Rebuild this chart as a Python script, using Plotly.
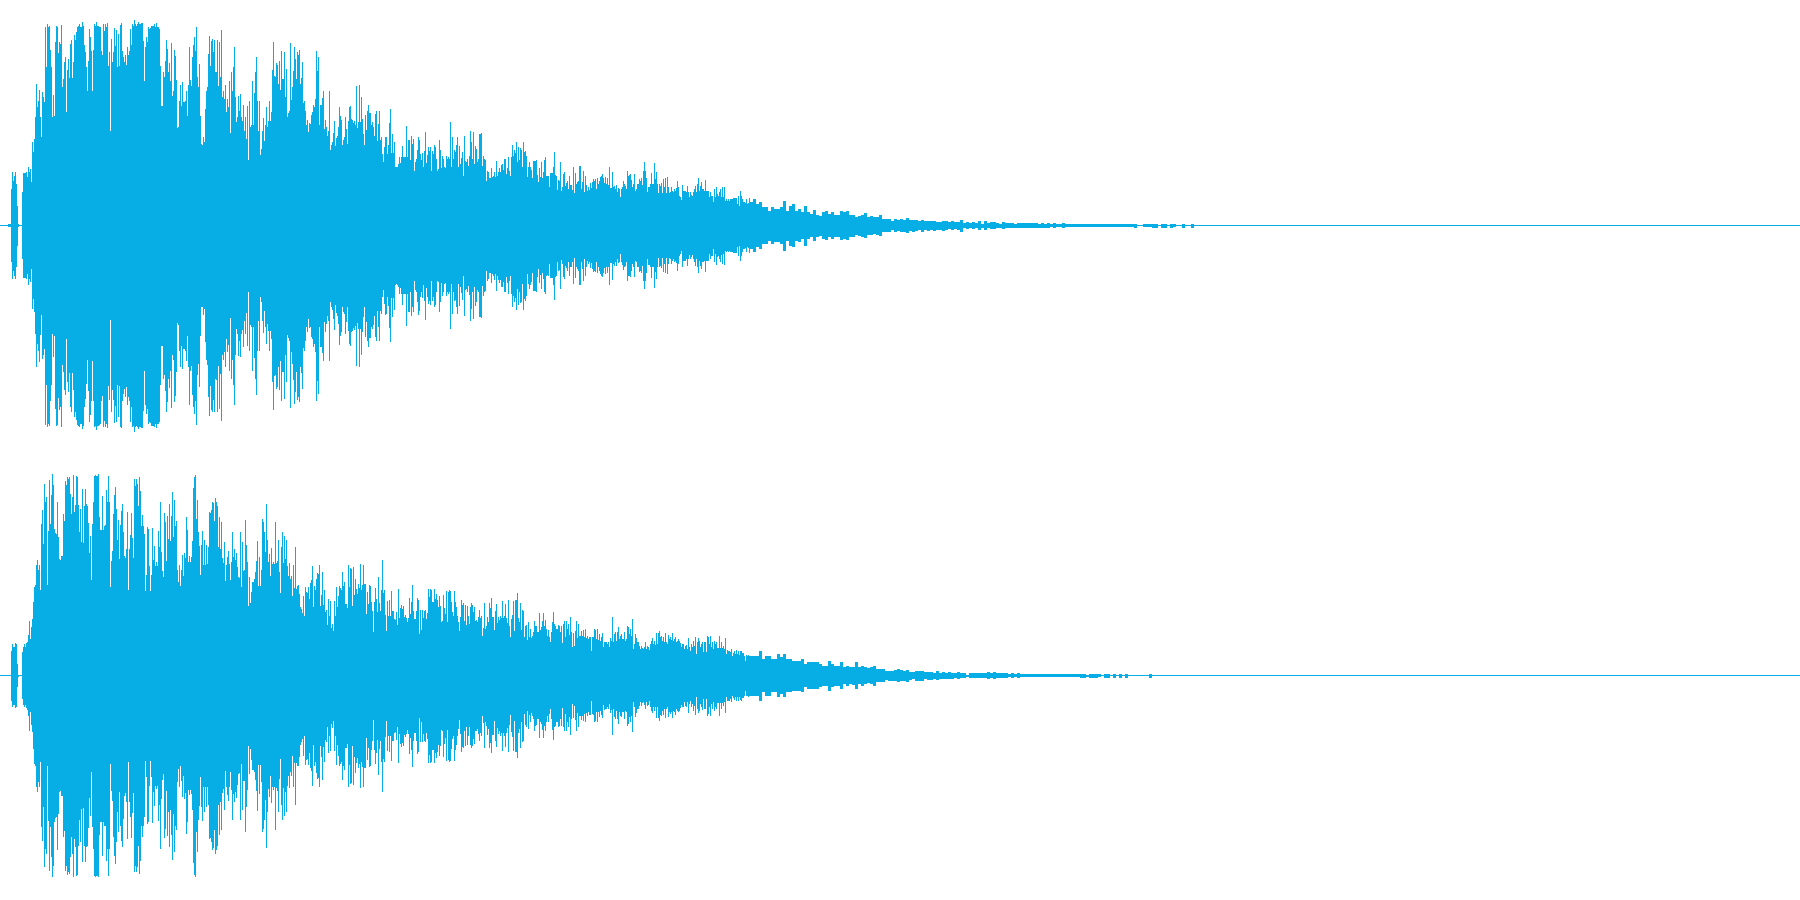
import plotly.graph_objects as go

# Peak amplitude per column group (full scale = 675).
ch1_head = [
1.5,1.5,1.5,1.5,1.5,1.5,1.5,1.5,5,5,5,110,160,135,150,160,125,60,5,1.5,1.5,1.5,100,158,158,157,160,145,177,160,
170,130,250,220,260,325,425,355,375,408,327,267,400,387,370,597,477,605,595,600,527,477,325,393,330,550,600,597,517,552,
545,603,417,440,492,507,340,468,500,442,545,558,442,492,573,558,582,597,600,605,595,595,610,600,543,520,475,403,495,590,
567,525,405,527,605,600,612,600,600,597,595,525,512,605,585,605,595,607,480,522,283,560,492,522,593,540,588,477,575,480,
603,607,525,505,490,513,483,537,513,525,590,543,605,600,618,605,600,605,610,605,605,607,607,555,435,537,565,550,595,590,
592,600,600,600,605,595,608,595,595,590,478,360,360,460,447,495,558,530,460,487,435,548,388,403,528,510,438,292,297,375,
423,360,430,370,370,375,405,330,423,537,437,420,507,543,565,525,597,447,415,485,330,245,243,267,250,350,403,417,515,570,
480,553,560,522,558,460,462,558,420,550,445,587,387,403,380,423,340,380,357,435,277,460,403,477,537,387,310,325,390,345,
395,325,313,363,285,325,261,360,198,375,297,303,435,303,397,460,507,375,285,375,213,230,285,322,255,303,355,295,315,375,
315,340,468,552,450,447,489,483,425,493,407,525,440,440,520,387,470,327,337,345,547,378,415,463,535,500,440,522,513,528,
425,443,490,367,375,345,303,318,280,308,305,333,340,363,355,380,525,465,505,303,363,363,382,405,290,318,295,270,285,405,
228,243,252,279,313,238,262,270,295,357,330,318,243,258,265,325,290,245,315,355,360,320,317,308,313,302,420,293,310,423,
310,387,320,275,243,333,288,345,363,337,337,303,310,297,270,335,345,255,305,345,257,265,215,192,235,267,265,215,242,308,
350,217,275,217,252,177,175,177,185,205,187,205,238,205,205,205,300,205,258,258,198,270,245,260,165,192,200,228,267,257,
215,198,218,177,225,282,187,213,235,225,237,165,225,215,243,237,200,165,170,258,228,172,210,200,175,172,210,200,205,200,
]
ch2_head = [
1.5,1.5,1.5,1.5,1.5,1.5,1.5,1.5,1.5,1.5,1.5,75,95,87,87,97,95,35,3,1.5,1.5,1.5,70,87,95,87,98,102,122,165,
110,147,170,220,265,272,333,348,318,333,258,455,497,395,575,520,535,272,435,587,455,543,605,572,440,428,425,522,415,350,
347,360,360,485,465,585,572,597,590,595,545,485,535,603,490,513,600,597,512,432,500,400,560,398,510,560,515,510,458,367,
420,288,455,520,600,603,600,600,605,477,438,438,540,438,450,452,557,520,600,520,265,345,375,485,542,565,500,408,468,350,
452,495,515,430,360,352,380,490,258,380,423,488,412,352,590,570,590,575,510,595,555,450,483,450,425,255,303,445,440,330,
255,303,443,348,390,330,340,330,435,387,520,370,313,295,487,460,345,480,410,515,403,478,552,415,528,450,463,318,280,333,
270,317,363,300,369,352,475,438,342,359,342,355,403,562,597,603,470,528,432,390,303,393,435,333,408,333,393,335,387,490,
487,498,522,517,463,534,522,510,387,477,380,462,352,339,402,285,333,357,375,335,288,342,432,355,380,348,367,327,295,292,
432,265,402,315,317,468,393,342,210,295,219,252,282,282,290,312,345,405,268,355,268,318,470,460,432,372,516,408,340,365,
300,382,335,342,335,462,337,345,408,310,249,387,432,337,420,350,408,330,300,338,290,300,240,333,263,387,261,270,272,245,
207,200,189,240,180,267,252,249,267,231,278,287,330,207,270,258,291,309,306,333,210,243,312,213,258,192,198,153,231,180,
225,144,156,135,225,180,267,207,240,270,264,258,312,270,282,216,216,204,333,267,324,321,210,327,243,291,261,246,276,264,
336,258,273,333,276,276,186,252,216,273,270,222,195,132,222,264,231,192,297,219,195,258,348,249,258,183,135,225,180,228,
180,255,195,195,171,168,192,153,261,174,204,213,201,210,177,183,174,162,174,234,186,222,273,195,171,171,195,234,228,126,
198,138,198,174,195,198,171,189,261,237,261,258,222,222,261,231,246,228,207,240,210,162,165,243,204,186,255,162,252,258,
]
ch1_mid = [
310,175,265,200,227,222,243,265,175,240,185,203,222,150,270,193,190,200,180,208,285,250,200,280,185,240,230,192,200,275,
275,277,180,210,200,197,135,165,160,143,143,173,145,150,162,145,195,150,162,172,162,183,185,168,200,200,155,173,205,165,
150,205,243,210,228,218,252,190,237,198,232,228,175,252,220,225,210,145,175,190,177,168,143,195,195,195,198,153,130,173,
147,190,143,160,198,205,150,148,150,115,157,157,157,177,222,153,150,108,137,133,190,103,115,155,160,120,127,135,110,150,
123,123,108,175,97,157,125,130,135,178,178,110,130,165,100,150,123,105,115,108,127,112,130,140,135,140,110,143,125,135,
145,150,155,143,127,145,125,143,123,177,113,112,162,115,120,110,122,100,112,110,85,110,117,133,125,120,110,165,150,152,
155,137,115,125,155,105,110,125,125,140,135,143,122,165,190,165,143,100,117,117,125,158,125,125,187,140,160,125,97,125,
120,127,98,140,115,143,98,145,115,97,100,115,105,100,110,105,113,135,115,90,85,77,123,105,105,105,100,120,100,87,
100,93,88,100,110,120,100,125,143,105,120,130,110,110,105,138,105,105,105,85,100,90,90,70,110,85,117,95,90,100,
110,87,115,85,117,75,80,75,80,75,80,80,80,83,83,82,82,65,90,60,105,90,80,70,70,67,80,65,67,82,
]
ch1_mid_coarse = [
105,115,80,80,80,80,105,75,65,80,70,80,65,70,55,55,45,55,50,50,55,75,45,60,65,45,50,40,60,40,
35,47,33,30,40,43,35,40,33,33,43,40,43,33,33,27,30,33,37,27,29,25,27,31,20,20,20,13,20,17,
]
ch2_mid = [
255,220,190,180,255,222,207,180,160,133,175,228,213,217,165,212,153,208,180,155,207,217,212,190,205,165,167,160,175,197,
173,180,120,142,217,140,150,177,160,218,203,232,177,177,137,195,215,157,175,167,180,173,225,173,180,215,173,157,228,148,
117,170,183,225,135,228,228,248,172,160,217,138,198,195,115,148,153,107,160,117,140,113,120,130,165,150,148,130,130,187,
138,145,163,187,150,167,140,120,138,115,100,130,162,192,155,150,140,140,153,150,130,150,97,155,165,115,165,140,155,123,
177,130,85,127,90,133,165,113,155,120,120,133,120,137,115,140,113,120,110,117,117,75,115,117,140,137,110,140,108,125,
105,117,127,87,102,100,100,95,100,85,113,103,177,100,125,130,105,130,145,110,120,125,110,110,130,105,110,150,145,125,
140,120,170,80,95,125,113,100,100,90,80,90,83,80,87,100,80,90,87,77,95,105,113,95,105,93,127,95,127,135,
117,120,105,117,100,128,100,95,123,110,115,108,128,105,110,117,100,105,110,105,97,87,95,95,80,90,93,80,113,85,
75,95,85,105,90,117,65,100,112,105,85,95,102,70,100,100,70,120,115,95,120,85,100,80,105,95,100,83,83,120,
83,100,83,90,80,113,65,77,75,75,70,80,60,67,73,65,77,65,75,63,73,75,67,67,60,45,62,60,63,60,
]
ch2_mid_coarse = [
120,85,110,75,65,70,70,70,60,60,60,60,60,75,50,60,60,50,50,65,55,65,50,50,45,45,45,50,35,40,
40,40,40,35,30,30,45,35,30,30,40,25,30,25,27,40,25,30,25,23,25,30,20,20,20,13,15,15,17,20,
]
ch1_tail = [
20,18,22,16,18,16,14,18,14,15,14,15,12,12,15,14,11,13,10,12,18,8,10,8,10,8,14,6,14,8,
11,11,7,6,10,8,8,8,6,8,8,8,8,8,8,8,6,7.5,6,7.5,4.5,8,4.5,4.5,7.5,4.5,4.5,4.5,4.5,4.5,
4.5,4.5,4.5,4.5,4.5,4.5,4.5,4.5,4.5,4.5,4.5,4.5,4.5,4.5,4.5,4.5,4.5,4.5,6,1.5,1.5,4.5,4.5,4.5,6,6,1.5,6,6,1.5,
6,4.5,1.5,1.5,6,1.5,1.5,6,1.5,1.5,
]
ch2_tail = [
17,15,18,12,10,15,15,15,10,12,12,9,14,9,10,9,10,9,8,11,8,8,3,8,8,8,8,8,8,10,
8,10,8,8,8,8,4.5,8,4.5,8,4.5,4.5,4.5,4.5,4.5,4.5,4.5,4.5,4.5,4.5,4.5,4.5,4.5,4.5,4.5,4.5,4.5,4.5,4.5,4.5,
6,6,3,6,6,6,4.5,1.5,6,6,1.5,6,1.5,6,1.5,6,1.5,1.5,1.5,1.5,1.5,1.5,1.5,6,1.5,1.5,1.5,1.5,1.5,1.5,
1.5,1.5,1.5,1.5,1.5,1.5,1.5,1.5,1.5,1.5,
]
silence_amp = 1.5
sample_end = 1800
amp_range = [-673.5, 676.5]

for name, arr, n in [("ch1_head", ch1_head, 450), ("ch2_head", ch2_head, 450),
                     ("ch1_mid", ch1_mid, 300), ("ch2_mid", ch2_mid, 300),
                     ("ch1_mid_coarse", ch1_mid_coarse, 60), ("ch2_mid_coarse", ch2_mid_coarse, 60),
                     ("ch1_tail", ch1_tail, 100), ("ch2_tail", ch2_tail, 100)]:
    if len(arr) != n:
        raise SystemExit(f"{name}: {len(arr)} != {n}")

COLOR = "#07AEE6"


def channel(head, mid, coarse, tail):
    xs, amps, widths = [], [], []
    pos = 0
    for arr, w in ((head, 1), (mid, 1), (coarse[10:], 3), (tail, 3)):
        for a in arr:
            xs.append(pos + w / 2)
            amps.append(a)
            widths.append(w)
            pos += w
    w = sample_end - pos
    xs.append(pos + w / 2)
    amps.append(silence_amp)
    widths.append(w)
    return xs, amps, widths


fig = go.Figure()
for head, mid, coarse, tail, ya in ((ch1_head, ch1_mid, ch1_mid_coarse, ch1_tail, "y"),
                                    (ch2_head, ch2_mid, ch2_mid_coarse, ch2_tail, "y2")):
    xs, amps, widths = channel(head, mid, coarse, tail)
    fig.add_trace(go.Bar(
        x=xs, y=[2 * a for a in amps], base=[-a for a in amps], width=widths,
        marker=dict(color=COLOR, line=dict(width=0)), yaxis=ya, showlegend=False, hoverinfo="skip",
    ))

hidden = dict(visible=False, showgrid=False, zeroline=False, fixedrange=True)
fig.update_layout(
    width=1800, height=900, margin=dict(l=0, r=0, t=0, b=0),
    paper_bgcolor="white", plot_bgcolor="white", barmode="overlay", bargap=0, showlegend=False,
    xaxis=dict(range=[0, sample_end], **hidden),
    yaxis=dict(range=amp_range, domain=[0.5, 1], **hidden),
    yaxis2=dict(range=amp_range, domain=[0, 0.5], **hidden),
)
fig.write_html("out.html", config={"displayModeBar": False},
               post_script="document.body.style.margin='0';document.documentElement.style.overflow='hidden';")
